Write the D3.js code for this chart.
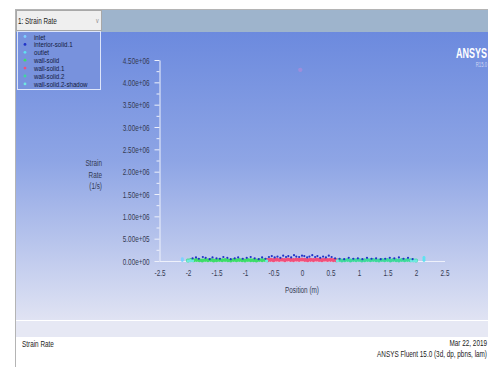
<!DOCTYPE html>
<html>
<head>
<meta charset="utf-8">
<script src="https://cdn.jsdelivr.net/npm/d3@7"></script>
<style>
	html, body { margin: 0; padding: 0; background: #fff; }
	svg { display: block; font-family: "Liberation Sans", Arial, sans-serif; }
</style>
</head>
<body>
<svg id="chart" width="488" height="367"></svg>
<script>
// Fluent XY plot: strain rate along the position axis, one series per zone.

const xTicks = [-2.5, -2, -1.5, -1, -0.5, 0, 0.5, 1, 1.5, 2, 2.5];
const yTicks = [0, 5e5, 1e6, 1.5e6, 2e6, 2.5e6, 3e6, 3.5e6, 4e6, 4.5e6];
const yMinorTicks = [2.5e5, 7.5e5, 1.25e6, 1.75e6, 2.25e6, 2.75e6, 3.25e6, 3.75e6, 4.25e6];

const zoneNames = ["inlet", "interior-solid.1", "outlet", "wall-solid", "wall-solid.1", "wall-solid.2", "wall-solid.2-shadow"];
const zoneColors = ["#7fd0ff", "#2234c8", "#5fe2f0", "#3ddc6a", "#f0507c", "#3fd89c", "#6fe8e0"];

// position (m)
const inletX = [-2.1, -2.1, -2.1];
const interiorX = [-1.92, -1.86, -1.81, -1.74, -1.69, -1.62, -1.57, -1.50, -1.44, -1.38,
	-1.31, -1.25, -1.18, -1.12, -1.04, -0.97, -0.90, -0.83, -0.76, -0.70,
	-0.64, -0.58, -0.53, -0.48, -0.43, -0.38, -0.33, -0.28, -0.24, -0.19,
	-0.14, -0.10, -0.05, 0.00, 0.04, 0.09, 0.13, 0.18, 0.23, 0.27,
	0.32, 0.37, 0.42, 0.47, 0.52, 0.58, 0.66, 0.74, 0.82, 0.90,
	0.98, 1.06, 1.14, 1.22, 1.30, 1.38, 1.46, 1.54, 1.62, 1.70,
	1.78, 1.86, 1.94, -0.03];
const outletX = [2.14, 2.14, 2.14, 2.14];
const wallSolidX = [-2.00, -1.95, -1.90, -1.85, -1.80, -1.75, -1.70, -1.65, -1.60, -1.55,
	-1.50, -1.45, -1.40, -1.35, -1.30, -1.25, -1.20, -1.15, -1.10, -1.05,
	-1.00, -0.95, -0.90, -0.85, -0.80, -0.75, -0.70, -0.65, -0.60];
const wallSolid1X = [-0.60, -0.55, -0.50, -0.45, -0.40, -0.35, -0.30, -0.25, -0.20, -0.15,
	-0.10, -0.05, 0.00, 0.05, 0.10, 0.15, 0.20, 0.25, 0.30, 0.35,
	0.40, 0.45, 0.50, 0.55, 0.60];
const wallSolid2X = [0.60, 0.65, 0.70, 0.75, 0.80, 0.85, 0.90, 0.95, 1.00, 1.05,
	1.10, 1.15, 1.20, 1.25, 1.30, 1.35, 1.40, 1.45, 1.50, 1.55,
	1.60, 1.65, 1.70, 1.75, 1.80, 1.85, 1.90, 1.95, 2.00];
const shadowX = [-2.00, -1.96, -1.92, -0.62, 0.62, 1.92, 1.96, 2.00];

// strain rate (1/s)
const inletY = [1e4, 3e4, 5e4];
const interiorY = [6e4, 8e4, 5e4, 9e4, 7e4, 4e4, 8e4, 6e4, 5e4, 9e4,
	7e4, 4e4, 6e4, 8e4, 5e4, 7e4, 9e4, 6e4, 4e4, 8e4,
	5e4, 9e4, 1.1e5, 8e4, 1.0e5, 7e4, 1.2e5, 9e4, 1.1e5, 8e4,
	1.3e5, 1.0e5, 9e4, 1.2e5, 1.1e5, 8e4, 1.0e5, 1.3e5, 9e4, 1.1e5,
	7e4, 1.0e5, 8e4, 1.2e5, 9e4, 6e4, 5e4, 4e4, 7e4, 5e4,
	6e4, 4e4, 7e4, 5e4, 6e4, 4e4, 5e4, 7e4, 6e4, 8e4,
	5e4, 7e4, 4e4, 4.28e6];
const outletY = [1e4, 3e4, 5e4, 8e4];
const wallSolidY = [1.2e4, 2.0e4, 1.5e4, 2.4e4, 1.8e4, 1.1e4, 2.2e4, 1.6e4, 2.5e4, 1.3e4,
	1.9e4, 2.1e4, 1.4e4, 2.3e4, 1.7e4, 1.2e4, 2.0e4, 1.5e4, 2.4e4, 1.8e4,
	1.3e4, 2.2e4, 1.6e4, 1.9e4, 1.1e4, 2.1e4, 1.4e4, 2.3e4, 1.7e4];
const wallSolid1Y = [2.0e4, 2.6e4, 1.8e4, 3.0e4, 2.2e4, 2.8e4, 1.9e4, 3.2e4, 2.4e4, 2.0e4,
	2.9e4, 2.3e4, 3.1e4, 2.5e4, 1.9e4, 2.7e4, 2.1e4, 3.0e4, 2.4e4, 1.8e4,
	2.8e4, 2.2e4, 2.6e4, 2.0e4, 1.7e4];
const wallSolid2Y = [1.5e4, 2.2e4, 1.1e4, 1.9e4, 2.4e4, 1.3e4, 2.0e4, 1.6e4, 2.3e4, 1.2e4,
	1.8e4, 2.5e4, 1.4e4, 2.1e4, 1.7e4, 1.1e4, 2.2e4, 1.5e4, 2.0e4, 1.3e4,
	2.4e4, 1.8e4, 1.2e4, 2.1e4, 1.6e4, 2.3e4, 1.4e4, 1.9e4, 1.2e4];
const shadowY = [5e3, 8e3, 6e3, 5e3, 5e3, 6e3, 8e3, 5e3];

const zoneX = [inletX, interiorX, outletX, wallSolidX, wallSolid1X, wallSolid2X, shadowX];
const zoneY = [inletY, interiorY, outletY, wallSolidY, wallSolid1Y, wallSolid2Y, shadowY];

const TEXT = "#343a52";
const AXIS = "#eef1fb";
const SX = 0.67; // the screenshot fonts are condensed

const svg = d3.select("#chart");

// condensed text at (x, y)
function narrowText(parent, x, y, str, opts = {}) {
	const { size = 9.5, color = TEXT, anchor = "start", sx = SX, weight = "normal" } = opts;
	return parent.append("text")
		.attr("transform", `translate(${x},${y}) scale(${sx},1)`)
		.attr("text-anchor", anchor)
		.attr("font-size", size)
		.attr("font-weight", weight)
		.attr("fill", color)
		.text(str);
}

// window chrome
const defs = svg.append("defs");
const grad = defs.append("linearGradient").attr("id", "bg").attr("x1", 0).attr("y1", 0).attr("x2", 0).attr("y2", 1);
grad.append("stop").attr("offset", "0%").attr("stop-color", "#6c8ade");
grad.append("stop").attr("offset", "45%").attr("stop-color", "#8ea5e5");
grad.append("stop").attr("offset", "100%").attr("stop-color", "#e0e3f3");

svg.append("rect").attr("x", 16).attr("y", 10).attr("width", 472).attr("height", 22).attr("fill", "#9eb4cc");
svg.append("rect").attr("x", 16).attr("y", 32).attr("width", 472).attr("height", 288).attr("fill", "url(#bg)");
svg.append("rect").attr("x", 16).attr("y", 321).attr("width", 472).attr("height", 16).attr("fill", "#e6e8f4");
svg.append("line").attr("x1", 15.5).attr("x2", 15.5).attr("y1", 9).attr("y2", 367).attr("stroke", "#b4b4b4");
svg.append("line").attr("x1", 15).attr("x2", 488).attr("y1", 9.5).attr("y2", 9.5).attr("stroke", "#b4b4b4");

// plot selector
svg.append("rect").attr("x", 16.5).attr("y", 10.5).attr("width", 85).attr("height", 20)
	.attr("fill", "#efefef").attr("stroke", "#a8a8a8");
narrowText(svg, 18, 24, "1: Strain Rate", { color: "#222" });
narrowText(svg, 96, 23, "v", { color: "#8a8a8a", size: 8 });

// scales
const x = d3.scaleLinear().domain([-2.5, 2.5]).range([159.5, 444.5]);
const y = d3.scaleLinear().domain([0, 4.5e6]).range([261, 60]);

const fmtSci = d => d.toExponential(2).replace(/e([+-])(\d)$/, "e$10$2");

// y axis
const yAxisG = svg.append("g")
	.attr("transform", `translate(${x(-2.5)},0)`)
	.call(d3.axisLeft(y).tickValues(yTicks).tickSize(5).tickSizeOuter(0).tickFormat(fmtSci));
yAxisG.select(".domain").attr("stroke", AXIS);
yAxisG.selectAll(".tick line").attr("stroke", AXIS);
yAxisG.selectAll(".tick text")
	.attr("x", null)
	.attr("transform", `translate(-10,0) scale(${SX},1)`)
	.attr("font-size", 9.5)
	.attr("font-family", "inherit")
	.attr("fill", TEXT);

const yMinorG = svg.append("g")
	.attr("transform", `translate(${x(-2.5)},0)`)
	.call(d3.axisLeft(y).tickValues(yMinorTicks).tickSize(3).tickFormat(""));
yMinorG.select(".domain").remove();
yMinorG.selectAll(".tick line").attr("stroke", AXIS);

// x axis
const xAxisG = svg.append("g")
	.attr("transform", `translate(0,${y(0)})`)
	.call(d3.axisBottom(x).tickValues(xTicks).tickSize(0).tickPadding(8).tickSizeOuter(0).tickFormat(d => String(d)));
xAxisG.select(".domain").attr("stroke", AXIS);
xAxisG.selectAll(".tick text")
	.attr("transform", `scale(${SX},1)`)
	.attr("font-size", 9.5)
	.attr("font-family", "inherit")
	.attr("fill", TEXT);

// axis titles
narrowText(svg, x(0), 293, "Position (m)", { anchor: "middle" });
narrowText(svg, 102, 166, "Strain", { anchor: "end" });
narrowText(svg, 102, 177.5, "Rate", { anchor: "end" });
narrowText(svg, 102, 189, "(1/s)", { anchor: "end" });

// data: walls first, then shadow, interior, inlet/outlet on top
const zones = zoneNames.map((name, i) => ({
	name,
	color: zoneColors[i],
	pts: zoneX[i].map((v, j) => [v, zoneY[i][j]]),
}));
const radius = [1.4, 1.1, 1.4, 2, 2.1, 2, 1.6];
const drawOrder = [3, 5, 4, 6, 1, 0, 2];
drawOrder.forEach(i => {
	const z = zones[i];
	svg.append("g").selectAll("circle")
		.data(z.pts)
		.join("circle")
		.attr("cx", d => x(d[0]))
		.attr("cy", d => y(d[1]))
		.attr("r", d => d[1] > 1e6 ? 2.2 : radius[i])
		.attr("fill", d => d[1] > 1e6 ? "#b58ad8" : z.color)
		.attr("opacity", d => d[1] > 1e6 ? 0.6 : 1);
});

// legend
const legend = svg.append("g");
legend.append("rect").attr("x", 17.5).attr("y", 31.5).attr("width", 83).attr("height", 58)
	.attr("fill", "#7892dd").attr("stroke", "#dde5fa");
zones.forEach((z, i) => {
	const ly = 38.5 + i * 7.9;
	legend.append("circle").attr("cx", 25).attr("cy", ly - 2).attr("r", 1.4).attr("fill", z.color);
	narrowText(legend, 34, ly + 1, z.name, { size: 7.5, sx: 0.82, color: "#121a3c" });
});

// logo
narrowText(svg, 487, 58, "ANSYS", { size: 15, sx: 0.6, weight: "bold", color: "#ffffff", anchor: "end" });
narrowText(svg, 487, 67, "R15.0", { size: 7, sx: 0.6, color: "#d0d8f4", anchor: "end" });

// footer
narrowText(svg, 22, 347, "Strain Rate", { color: "#222" });
narrowText(svg, 487, 346, "Mar 22, 2019", { anchor: "end", color: "#222" });
narrowText(svg, 487, 357, "ANSYS Fluent 15.0 (3d, dp, pbns, lam)", { anchor: "end", color: "#222" });
</script>
</body>
</html>
